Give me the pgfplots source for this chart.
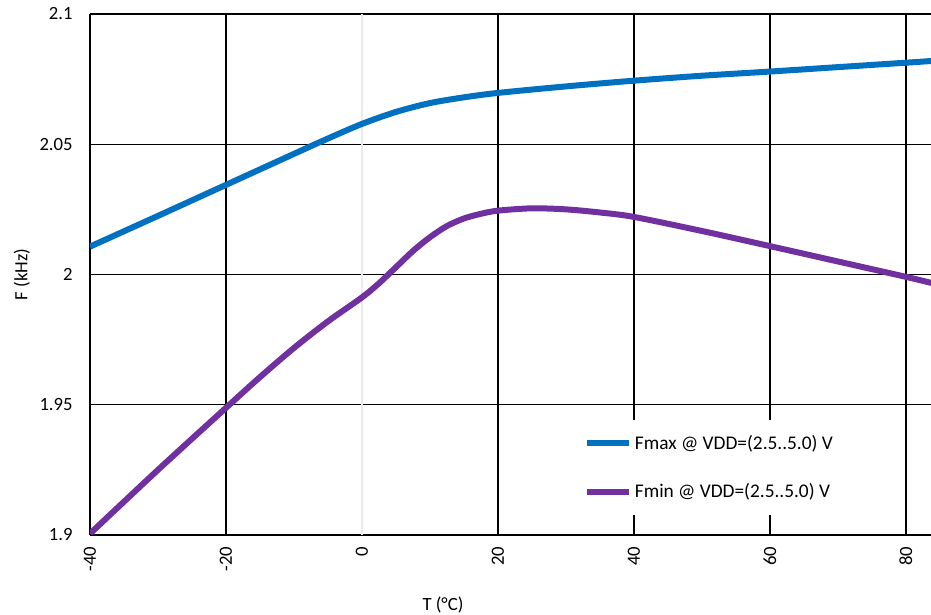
\documentclass[border=0pt]{standalone}
\usepackage{pgfplots}
\pgfplotsset{compat=1.18}
\usepackage{fontspec}
\setmainfont{Carlito}
\definecolor{fmax}{HTML}{0070C0}
\definecolor{fmin}{HTML}{7030A0}
\begin{document}
\begin{tikzpicture}
\begin{axis}[
 scale only axis, width=630.75pt, height=390.75pt,
 xmin=-40, xmax=83.7, ymin=1.9, ymax=2.1,
 axis x line*=box, axis y line*=left,
 axis line style={black, line width=2pt},
 xtick={-40,-20,20,40,60,80},
 extra x ticks={0},
 extra x tick style={major grid style={black!8, line width=1pt}},
 ytick={1.9,1.95,2,2.05,2.1},
 grid=major, major grid style={black, line width=1pt},
 major tick length=0pt,
 font=\fontsize{14}{16}\selectfont,
 tick label style={font=\fontsize{14}{16}\selectfont},
 /pgf/number format/assume math mode=true,
 yticklabel style={/pgf/number format/fixed, /pgf/number format/precision=2, xshift=-9.5pt},
 x tick label style={rotate=90, anchor=east, yshift=0pt, xshift=-5.5pt},
 xlabel={T (°C)},
 ylabel={F (kHz)},
 xlabel style={at={(axis description cs:0.4197,-0.1344)}, anchor=center},
 ylabel style={at={(axis description cs:-0.0809,0.5)}, anchor=center},
 legend style={at={(axis description cs:0.5767,0.2207)}, anchor=north west, draw=none, fill=white,
   inner xsep=6.75pt, inner ysep=9pt, row sep=20.5pt, font=\fontsize{14.5}{16}\selectfont,
   cells={anchor=west}},
 legend image code/.code={\draw[#1] (0pt,0pt) -- (31.5pt,0pt);},
]
\addplot[fmax, line width=4.5pt, smooth] coordinates {
(-40,2.0107) (-30,2.0225) (-20,2.0344) (-10,2.0463) (-5,2.0522) (0,2.0578) (5,2.0624) (10,2.0658) (15,2.0680) (20,2.0697) (30,2.0722) (40,2.0744) (50,2.0763) (60,2.0779) (70,2.0796) (80,2.0813) (84,2.0820)};
\addlegendentry{Fmax @ VDD=(2.5..5.0) V}
\addplot[fmin, line width=4.5pt, smooth] coordinates {
(-40,1.9005) (-30,1.9250) (-20,1.9488) (-15,1.9606) (-10,1.9718) (-5,1.9820) (0,1.9912) (2.5,1.9966) (5,2.0028) (7.5,2.0090) (10,2.0143) (12.5,2.0186) (15,2.0215) (17.5,2.0233) (20,2.0245) (25,2.0254) (30,2.0250) (35,2.0238) (40,2.0221) (50,2.0167) (60,2.0109) (70,2.0050) (80,1.9991) (84,1.9966)};
\addlegendentry{Fmin @ VDD=(2.5..5.0) V}
\end{axis}
\pgfresetboundingbox
\path ([xshift=-67.5pt,yshift=-60pt]current axis.south west) rectangle ([yshift=10.5pt]current axis.north east);
\end{tikzpicture}
\end{document}
